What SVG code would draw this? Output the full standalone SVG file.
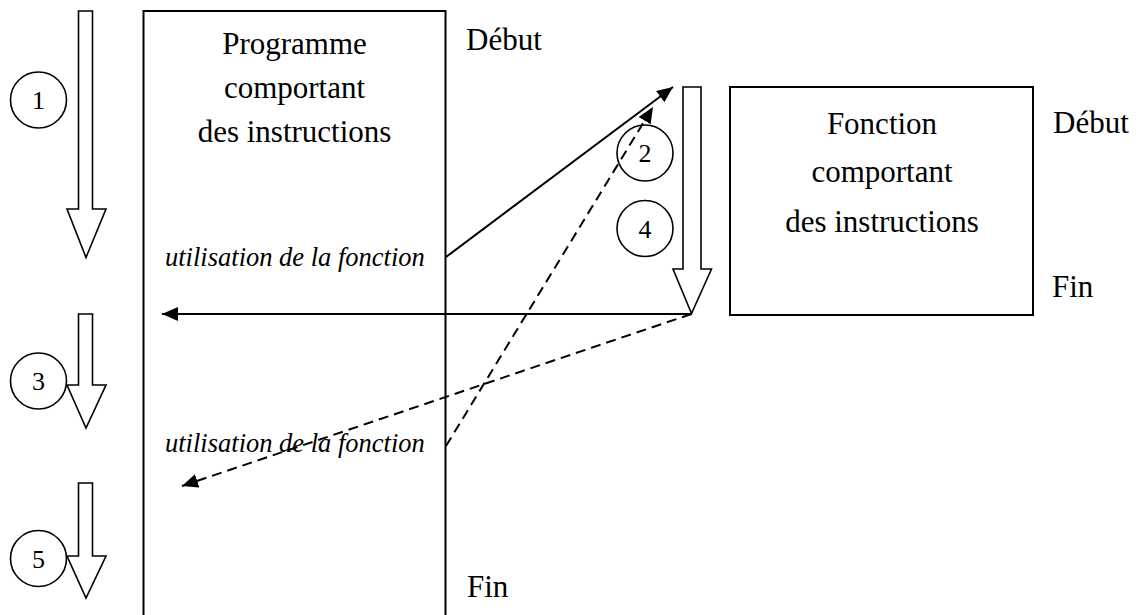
<svg xmlns="http://www.w3.org/2000/svg" width="1136" height="615" viewBox="0 0 1136 615">
  <style>
    .box { fill: none; stroke: #000; stroke-width: 2; }
    .flow { fill: #fff; stroke: #000; stroke-width: 1.6; stroke-linejoin: miter; }
    .step { fill: #fff; stroke: #000; stroke-width: 1.6; }
    .txt { font-family: "Liberation Serif", "Times New Roman", serif; font-size: 31px; fill: #000; }
    .mid { text-anchor: middle; }
    .call { font-family: "Liberation Serif", "Times New Roman", serif; font-size: 26.5px; font-style: italic; fill: #000; }
    .num { font-family: "Liberation Serif", "Times New Roman", serif; font-size: 26px; fill: #000; text-anchor: middle; }
    .link { fill: none; stroke: #000; stroke-width: 2; }
    .dash { stroke-dasharray: 10 6; }
  </style>
  <defs>
    <marker id="head" viewBox="0 0 16 14" refX="16" refY="7" markerWidth="16" markerHeight="14" markerUnits="userSpaceOnUse" orient="auto">
      <path d="M0,0 L16,7 L0,14 Z" fill="#000"/>
    </marker>
  </defs>

  <!-- main program -->
  <g id="programme">
    <rect class="box" x="143.5" y="11" width="302" height="620"/>
    <text class="txt mid" x="294.5" y="54">Programme</text>
    <text class="txt mid" x="294.5" y="98">comportant</text>
    <text class="txt mid" x="294.5" y="142">des instructions</text>
    <text class="call" x="165" y="266">utilisation de la fonction</text>
    <text class="call" x="165" y="452">utilisation de la fonction</text>
  </g>
  <g id="programme-debut"><text class="txt" x="466" y="50">Début</text></g>
  <g id="programme-fin"><text class="txt" x="467" y="597">Fin</text></g>

  <!-- function -->
  <g id="fonction">
    <rect class="box" x="730" y="87" width="303" height="228"/>
    <text class="txt mid" x="882" y="134">Fonction</text>
    <text class="txt mid" x="882" y="182">comportant</text>
    <text class="txt mid" x="882" y="232">des instructions</text>
  </g>
  <g id="fonction-debut"><text class="txt" x="1053" y="133">Début</text></g>
  <g id="fonction-fin"><text class="txt" x="1052" y="297">Fin</text></g>

  <!-- hollow flow arrows -->
  <g id="fleche-1"><path class="flow" d="M78.5,11 H92.5 V209 H106 L86,257.5 L67,209 H78.5 Z"/></g>
  <g id="fleche-3"><path class="flow" d="M78.5,314 H92.5 V385 H106 L86,428 L67,385 H78.5 Z"/></g>
  <g id="fleche-5"><path class="flow" d="M78.5,483 H92.5 V556 H106 L86,598 L67,556 H78.5 Z"/></g>
  <g id="fleche-fonction"><path class="flow" d="M683,87 H701 V269 H711.5 L691.5,313.5 L673,269 H683 Z"/></g>

  <!-- step numbers -->
  <g id="etape-1"><circle class="step" cx="38.5" cy="100" r="28"/><text class="num" x="38.5" y="109">1</text></g>
  <g id="etape-2"><circle class="step" cx="645" cy="153" r="28"/><text class="num" x="645" y="162">2</text></g>
  <g id="etape-3"><circle class="step" cx="38.5" cy="381" r="28"/><text class="num" x="38.5" y="390">3</text></g>
  <g id="etape-4"><circle class="step" cx="645" cy="228.5" r="28"/><text class="num" x="645" y="237.5">4</text></g>
  <g id="etape-5"><circle class="step" cx="38.5" cy="558.5" r="28"/><text class="num" x="38.5" y="567.5">5</text></g>

  <!-- calls and returns -->
  <g id="connecteurs">
    <line class="link" x1="446" y1="257" x2="673" y2="87" marker-end="url(#head)"/>
    <line class="link" x1="691.5" y1="314" x2="162" y2="314" marker-end="url(#head)"/>
    <line class="link dash" x1="446" y1="446" x2="653" y2="107" marker-end="url(#head)"/>
    <line class="link dash" x1="691.5" y1="314" x2="182" y2="486" marker-end="url(#head)"/>
  </g>
</svg>
